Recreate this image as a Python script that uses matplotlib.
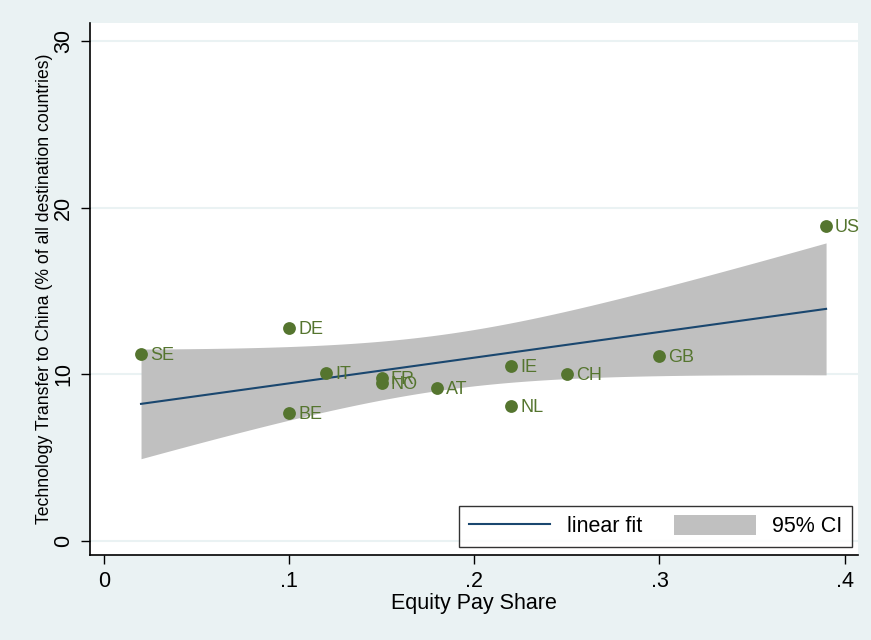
import numpy as np
import matplotlib.pyplot as plt
from matplotlib.patches import Patch
from matplotlib.lines import Line2D

# Data
countries = ["SE", "DE", "BE", "IT", "FR", "NO", "AT", "IE", "NL", "CH", "GB", "US"]
equity_pay_share = [0.02, 0.10, 0.10, 0.12, 0.15, 0.15, 0.18, 0.22, 0.22, 0.25, 0.30, 0.39]
tech_transfer = [11.2, 12.8, 7.7, 10.1, 9.8, 9.5, 9.2, 10.5, 8.1, 10.0, 11.1, 18.9]

x_ticks = [0, 0.1, 0.2, 0.3, 0.4]
x_tick_labels = ["0", ".1", ".2", ".3", ".4"]
y_ticks = [0, 10, 20, 30]

BG = '#eaf2f3'
GREEN = '#55752f'
NAVY = '#1a476f'
BAND = '#c0c0c0'

plt.rcParams['font.family'] = ['Liberation Sans', 'DejaVu Sans']

# Linear fit with 95% CI of the mean prediction (as Stata lfitci)
x = np.array(equity_pay_share)
y = np.array(tech_transfer)
n = len(x)
slope, intercept = np.polyfit(x, y, 1)
resid = y - (intercept + slope * x)
s = np.sqrt(np.sum(resid ** 2) / (n - 2))
sxx = np.sum((x - x.mean()) ** 2)
t_crit = 2.228  # t(0.975, df=10)
xs = np.linspace(x.min(), x.max(), 200)
fit = intercept + slope * xs
half = t_crit * s * np.sqrt(1.0 / n + (xs - x.mean()) ** 2 / sxx)

fig = plt.figure(figsize=(8.71, 6.4), dpi=100, facecolor=BG)
ax = fig.add_axes([90 / 871, 1 - 555 / 640, (858 - 90) / 871, (555 - 23) / 640])
ax.set_facecolor('white')

for yt in y_ticks:
    ax.axhline(yt, color=BG, linewidth=1.5, zorder=0)

ax.fill_between(xs, fit - half, fit + half, color=BAND, linewidth=0, zorder=1)
ax.plot(xs, fit, color=NAVY, linewidth=1.5, zorder=2)
ax.scatter(x, y, s=85, color=GREEN, zorder=3, linewidths=0)
for cx, cy, lab in zip(x, y, countries):
    ax.annotate(lab, (cx, cy), xytext=(6.5, -1), textcoords='offset points',
                ha='left', va='center', color=GREEN, fontsize=13, zorder=4)

ax.set_xlim((90 - 104) / 1851.5, (858 - 104) / 1851.5)
ax.set_ylim((541 - 555) / 16.67, (541 - 23) / 16.67)
ax.set_xticks(x_ticks)
ax.set_xticklabels(x_tick_labels, fontsize=15.5)
ax.set_yticks(y_ticks)
ax.set_yticklabels([str(v) for v in y_ticks], fontsize=15.5, rotation=90, va='center')
ax.tick_params(direction='out', length=6.5, width=1, color='black', pad=5)

for side in ['top', 'right']:
    ax.spines[side].set_visible(False)
for side in ['left', 'bottom']:
    ax.spines[side].set_linewidth(1.2)

ax.set_xlabel('Equity Pay Share', fontsize=15.5, labelpad=1)
ax.set_ylabel('Technology Transfer to China (% of all destination countries)', fontsize=12.7, labelpad=0)

handles = [Line2D([0], [0], color=NAVY, linewidth=1.5), Patch(facecolor=BAND, edgecolor='none')]
leg = ax.legend(handles, ['linear fit', '95% CI'], ncol=2, loc='lower right',
                bbox_to_anchor=(852 / 871, 1 - 547 / 640), bbox_transform=fig.transFigure,
                fontsize=15.5, frameon=True, fancybox=False, handlelength=3.8, handleheight=1.0,
                columnspacing=1.5, handletextpad=0.75, borderpad=0.45, borderaxespad=0)
leg.get_frame().set_edgecolor('black')
leg.get_frame().set_linewidth(1.0)

plt.savefig('out.png', dpi=100, facecolor=BG)
